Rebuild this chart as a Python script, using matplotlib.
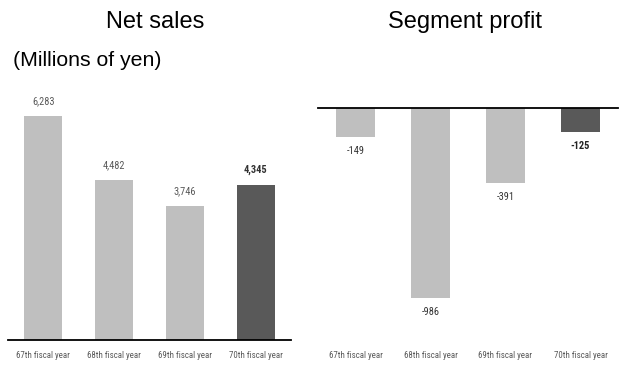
import matplotlib
matplotlib.use("Agg")
import matplotlib.pyplot as plt
from matplotlib import font_manager

categories = ["67th fiscal year", "68th fiscal year", "69th fiscal year", "70th fiscal year"]
net_sales = [6283, 4482, 3746, 4345]
segment_profit = [-149, -986, -391, -125]
net_labels = ["6,283", "4,482", "3,746", "4,345"]
profit_labels = ["-149", "-986", "-391", "-125"]

LIGHT = "#bfbfbf"
DARK = "#595959"
colors = [LIGHT, LIGHT, LIGHT, DARK]

names = {f.name for f in font_manager.fontManager.ttflist}
narrow = "Roboto Condensed" if "Roboto Condensed" in names else "DejaVu Sans"
main = "Liberation Sans" if "Liberation Sans" in names else "DejaVu Sans"

W, H = 624, 367
fig = plt.figure(figsize=(W / 100, H / 100), dpi=100)

def px_axes(x0, y_top, x1, y_bot):
    return fig.add_axes([x0 / W, 1 - y_bot / H, (x1 - x0) / W, (y_bot - y_top) / H])

# Left: Net sales
ax1 = px_axes(8, 80, 291, 340)
ax1.bar(range(4), net_sales, width=0.54, color=colors)
ax1.set_xlim(-0.5, 3.5)
ax1.set_ylim(0, 260 / 0.03565)
for i, (v, lab) in enumerate(zip(net_sales, net_labels)):
    bold = i == 3
    ax1.annotate(lab, (i, v), xytext=(0, 15), textcoords="offset pixels",
                 ha="center", va="center", fontsize=7.5, family=narrow,
                 color="#333333" if bold else "#595959",
                 fontweight="bold" if bold else "normal")
for s in ["top", "left", "right"]:
    ax1.spines[s].set_visible(False)
ax1.spines["bottom"].set_linewidth(1.3)
ax1.set_yticks([])
ax1.set_xticks(range(4))
ax1.set_xticklabels(categories, fontsize=6.4, family=narrow, color="#595959")
ax1.tick_params(axis="x", length=0, pad=8)

# Right: Segment profit
ax2 = px_axes(318, 108, 618, 340)
ax2.bar(range(4), segment_profit, width=0.53, color=colors)
ax2.set_xlim(-0.5, 3.5)
ax2.set_ylim(-232 / 0.1927, 0)
for i, (v, lab) in enumerate(zip(segment_profit, profit_labels)):
    bold = i == 3
    ax2.annotate(lab, (i, v), xytext=(0, -14), textcoords="offset pixels",
                 ha="center", va="center", fontsize=7.5, family=narrow,
                 color="#222222" if bold else "#333333",
                 fontweight="bold" if bold else "normal")
for s in ["bottom", "left", "right"]:
    ax2.spines[s].set_visible(False)
ax2.spines["top"].set_linewidth(1.3)
ax2.set_yticks([])
ax2.set_xticks(range(4))
ax2.set_xticklabels(categories, fontsize=6.4, family=narrow, color="#595959")
ax2.tick_params(axis="x", length=0, pad=8)

fig.text(155 / W, 1 - 22 / H, "Net sales", ha="center", va="center", fontsize=17, family=main)
fig.text(465 / W, 1 - 22 / H, "Segment profit", ha="center", va="center", fontsize=17, family=main)
fig.text(13 / W, 1 - 60 / H, "(Millions of yen)", ha="left", va="center", fontsize=15.3, family=main)

fig.savefig("out.png", dpi=100)
